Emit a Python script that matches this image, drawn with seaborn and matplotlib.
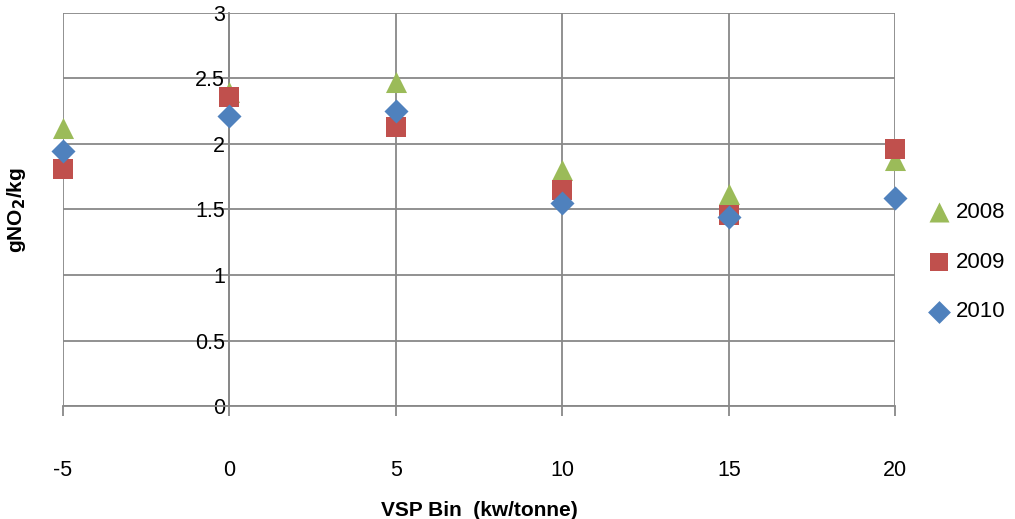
import matplotlib
matplotlib.use("Agg")
import matplotlib.pyplot as plt
import seaborn as sns
import pandas as pd

# VSP bins (kw/tonne)
vsp_bins = [-5, 0, 5, 10, 15, 20]
years = ["2008", "2009", "2010"]

# gNO2/kg
nox_2008 = [2.12, 2.40, 2.47, 1.80, 1.62, 1.88]
nox_2009 = [1.81, 2.36, 2.13, 1.65, 1.46, 1.96]
nox_2010 = [1.95, 2.21, 2.25, 1.55, 1.44, 1.59]

colors = {"2008": "#9BBB59", "2009": "#C0504D", "2010": "#4F81BD"}
markers = {"2008": "^", "2009": "s", "2010": "D"}
sizes = {"2008": 230, "2009": 200, "2010": 150}

df = pd.DataFrame({
    "vsp": vsp_bins * 3,
    "nox": nox_2008 + nox_2009 + nox_2010,
    "year": [y for y in years for _ in vsp_bins],
})

sns.set_style("white")
plt.rcParams["font.family"] = ["Liberation Sans Narrow", "Liberation Sans", "DejaVu Sans"]
plt.rcParams["axes.unicode_minus"] = False
plt.rcParams["text.color"] = "black"
plt.rcParams["xtick.color"] = "black"
plt.rcParams["ytick.color"] = "black"
plt.rcParams["axes.labelcolor"] = "black"

fig = plt.figure(figsize=(10.15, 5.19), dpi=100)
ax = fig.add_axes([0.062, 0.2177, 0.82, 0.7573])

for year in years:
    sub = df[df["year"] == year]
    sns.scatterplot(data=sub, x="vsp", y="nox", ax=ax, color=colors[year],
                    marker=markers[year], s=sizes[year], linewidth=0,
                    label=year, zorder=3, clip_on=False)

ax.set_xlim(-5, 20)
ax.set_ylim(0, 3)
ax.set_xticks(vsp_bins)
ax.set_yticks([0, 0.5, 1, 1.5, 2, 2.5, 3])
ax.set_yticklabels(["0", "0.5", "1", "1.5", "2", "2.5", "3"])

grid_col = "#888888"
ax.grid(True, color=grid_col, linewidth=1.3, zorder=0)
ax.set_axisbelow(True)
for side in ["top", "right"]:
    ax.spines[side].set_visible(False)
ax.spines["left"].set_position(("data", 0))
ax.spines["left"].set_color(grid_col)
ax.spines["left"].set_linewidth(1.3)
ax.spines["bottom"].set_color(grid_col)
ax.spines["bottom"].set_linewidth(1.3)

ax.tick_params(axis="x", direction="out", length=7, width=1.3, color=grid_col,
               pad=32, labelsize=15.5, bottom=True, labelcolor="black")
ax.tick_params(axis="y", length=0, pad=3, labelsize=15.5, labelcolor="black")

ax.set_xlabel("VSP Bin  (kw/tonne)", fontsize=15, fontweight="bold", labelpad=14)
ax.set_ylabel("")
fig.text(0.016, 0.595, r"gNO$_\mathbf{2}$/kg", rotation=90, fontsize=15,
         fontweight="bold", ha="center", va="center")

leg = ax.legend(loc="center left", bbox_to_anchor=(0.898, 0.495),
                bbox_transform=fig.transFigure, frameon=False,
                fontsize=16, handletextpad=0.0, labelspacing=1.3,
                markerscale=0.95, borderpad=0, handlelength=1.5)

fig.savefig("out.png", dpi=100)
